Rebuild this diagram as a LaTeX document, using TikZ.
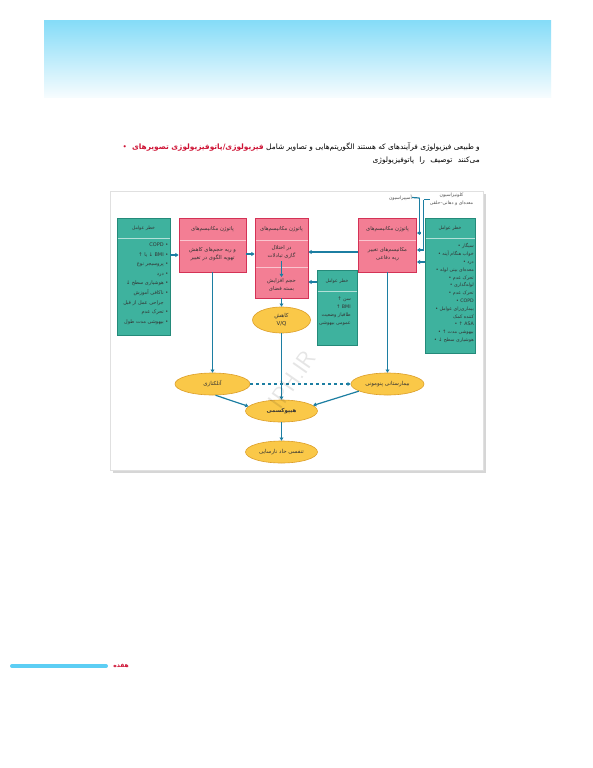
\documentclass[tikz,border=0pt]{standalone}
\usepackage{fontspec}
\usepackage{xcolor}
\usetikzlibrary{arrows.meta, shapes.geometric}
\newfontfamily\farsi[Script=Arabic]{DejaVu Sans}
\TeXXeTstate=1
\definecolor{bannertop}{RGB}{134,220,248}
\definecolor{bannerbot}{RGB}{246,252,254}
\definecolor{riskteal}{RGB}{62,178,158}
\definecolor{riskedge}{RGB}{36,138,122}
\definecolor{mechpink}{RGB}{243,126,148}
\definecolor{mechedge}{RGB}{212,50,86}
\definecolor{ovalfill}{RGB}{250,200,72}
\definecolor{ovaledge}{RGB}{220,158,40}
\definecolor{flowblue}{RGB}{28,126,162}
\definecolor{titlered}{RGB}{206,18,52}
\definecolor{barblue}{RGB}{92,206,244}

\newcommand{\boxfont}{\farsi\fontsize{4.6}{7.6}\selectfont}
\newcommand{\mechfont}{\farsi\fontsize{5.3}{8}\selectfont}

\tikzset{
  riskbox/.style={draw=riskedge, line width=0.7pt, fill=riskteal, inner sep=0pt},
  mechbox/.style={draw=mechedge, line width=0.7pt, fill=mechpink, inner sep=0pt},
  outcome/.style={ellipse, draw=ovaledge, line width=0.6pt, fill=ovalfill,
                  inner sep=0pt, font=\farsi\fontsize{5.5}{7.6}\selectfont, text=black!80},
  boxtext/.style={inner sep=0pt, font=\boxfont, text=black!80},
  mechtext/.style={inner sep=0pt, font=\mechfont, text=black!80, align=center},
  risksep/.style={draw=white!60!riskteal, line width=0.6pt},
  mechsep/.style={draw=white!55!mechpink, line width=0.6pt},
  flow/.style={draw=flowblue, line width=1.2pt, -{Triangle[length=3.2pt, width=3.8pt]}},
}

\begin{document}
\begin{tikzpicture}[x=1pt, y=-1pt]
    \useasboundingbox[fill=white] (0,0) rectangle (593,768);

    % banner and intro
    \shade[top color=bannertop, bottom color=bannerbot] (44,21) rectangle (551,97);
    \node[anchor=east, inner sep=0pt, font=\farsi\fontsize{7.4}{9}\selectfont] (intro1) at (480,147) {%
        \textcolor{titlered}{•}\hspace{5pt}{\color{titlered}\bfseries\beginR فیزیولوژی/پاتوفیزیولوژی تصویرهای\endR} \beginR و طبیعی فیزیولوژی فرآیندهای که هستند الگوریتم‌هایی و تصاویر شامل\endR};
    \node[anchor=east, inner sep=0pt, font=\farsi\fontsize{7.4}{9}\selectfont] (intro2) at (480,161) {\beginR می‌کنند\hspace{3pt} توصیف\hspace{3pt} را\hspace{3pt} پاتوفیزیولوژی\endR};

    % panel
    \fill[black!16] (113,194) rectangle (486,473);
    \filldraw[fill=white, draw=black!12] (110,191) rectangle (483,470);

    % boxes
    \node[riskbox, minimum width=53pt, minimum height=117pt] (riskL) at (143.5,276.5) {};
    \node[mechbox, minimum width=67pt, minimum height=54pt] (mech1) at (212.5,245) {};
    \node[mechbox, minimum width=53pt, minimum height=80pt] (mech2) at (281.5,258) {};
    \node[mechbox, minimum width=58pt, minimum height=54pt] (mech3) at (387.5,245) {};
    \node[riskbox, minimum width=50pt, minimum height=135pt] (riskR) at (450,285.5) {};
    \node[riskbox, minimum width=40pt, minimum height=75pt] (riskM) at (337,307.5) {};

    \draw[risksep] (117.5,238) -- (169.5,238);
    \draw[risksep] (425.5,238) -- (474.5,238);
    \draw[risksep] (317.5,291) -- (356.5,291);
    \draw[mechsep] (179.5,240) -- (245.5,240);
    \draw[mechsep] (255.5,240) -- (307.5,240);
    \draw[mechsep] (255.5,267) -- (307.5,267);
    \draw[mechsep] (359,240) -- (416,240);

    % box texts
    \node[boxtext] (riskLhead) at (143.5,228) {\beginR خطر عوامل\endR};
    \node[boxtext, anchor=north east, align=right, font=\farsi\fontsize{5}{9.6}\selectfont] (riskLitems) at (168.5,242.5) {%
        \beginR • \beginL COPD\endL\endR\\
        \beginR • \beginL BMI\endL{} ↓ یا ↑\endR\\
        \beginR • پروسیجر نوع\endR\\
        \beginR • درد\endR\\
        \beginR • هوشیاری سطح ↓\endR\\
        \beginR • ناکافی آموزش\endR\\
        \beginR جراحی عمل از قبل\endR\phantom{ •}\\
        \beginR • تحرک عدم\endR\\
        \beginR • بیهوشی مدت طول\endR};
    \node[mechtext] (mech1head) at (212.5,229) {\beginR پاتوژن مکانیسم‌های\endR};
    \node[mechtext] (mech1body) at (212.5,254.5) {\beginR و ریه حجم‌های کاهش\endR\\ \beginR تهویه الگوی در تغییر\endR};
    \node[mechtext] (mech2head) at (281.5,229) {\beginR پاتوژن مکانیسم‌های\endR};
    \node[mechtext] (mech2gas) at (281.5,252) {\beginR در اختلال\endR\\ \beginR گازی تبادلات\endR};
    \node[mechtext] (mech2dead) at (281.5,284.5) {\beginR حجم افزایش\endR\\ \beginR بسته فضای\endR};
    \node[mechtext] (mech3head) at (387.5,229) {\beginR پاتوژن مکانیسم‌های\endR};
    \node[mechtext] (mech3body) at (387.5,254.5) {\beginR مکانیسم‌های تغییر\endR\\ \beginR ریه دفاعی\endR};
    \node[boxtext] (riskRhead) at (450,228) {\beginR خطر عوامل\endR};
    \node[boxtext, anchor=north east, align=right, font=\farsi\fontsize{4.7}{7.8}\selectfont] (riskRitems) at (474,243.5) {%
        \beginR سیگار •\endR\\
        \beginR خواب هنگام آپنه •\endR\\
        \beginR درد •\endR\\
        \beginR معده‌ای بینی لوله •\endR\\
        \beginR تحرک عدم •\endR\\
        \beginR لوله‌گذاری •\endR\\
        \beginR تحرک عدم •\endR\\
        \beginR \beginL COPD\endL{} •\endR\\
        \beginR بیماری‌زای عوامل •\endR\\
        \beginR کننده کمک\endR\hspace{4pt}\\
        \beginR \beginL ASA\endL{} ↑ •\endR\\
        \beginR بیهوشی مدت ↑ •\endR\\
        \beginR هوشیاری سطح ↓ •\endR};
    \node[boxtext] (riskMhead) at (337,281) {\beginR خطر عوامل\endR};
    \node[boxtext, anchor=north east, align=right, font=\farsi\fontsize{4.8}{8}\selectfont] (riskMitems) at (351,296.5) {%
        \beginR سن ↑\endR\\
        \beginR \beginL BMI\endL{} ↑\endR\\
        \beginR طاقباز وضعیت\endR\\
        \beginR عمومی بیهوشی\endR};

    % outcomes
    \node[outcome, minimum width=58pt, minimum height=26pt, align=center] (vq) at (281.5,320) {کاهش\\ V/Q};
    \node[outcome, minimum width=75pt, minimum height=22pt] (atel) at (212.5,384) {آتلکتازی};
    \node[outcome, minimum width=73pt, minimum height=22pt] (pneu) at (387.5,384) {\beginR بیمارستانی پنومونی\endR};
    \node[outcome, minimum width=72pt, minimum height=22pt, font=\farsi\bfseries\fontsize{5.5}{7}\selectfont] (hypox) at (281.5,411) {هیپوکسمی};
    \node[outcome, minimum width=72pt, minimum height=22pt] (ards) at (281.5,452) {\beginR تنفسی حاد نارسایی\endR};

    % aspiration and colonization
    \node[boxtext, anchor=east, text=black!70] (asp) at (412,197.5) {آسپیراسیون};
    \node[boxtext, align=center, text=black!70, font=\farsi\fontsize{4.6}{8.5}\selectfont] (col) at (451.5,199.5) {کلونیزاسیون\\ \beginR معده‌ای و دهانی–حلقی\endR};
    \coordinate (aspbend) at (419.5,198);
    \coordinate (colbend) at (423.5,199.5);

    % connectors
    \draw[flow] ([yshift=21.5pt]riskL.east) -- ([yshift=-10pt]mech1.west);
    \draw[flow] ([yshift=-9pt]mech1.east) -- ([yshift=4pt]mech2.west);
    \draw[flow] ([yshift=-7pt]mech3.west) -- ([yshift=6pt]mech2.east);
    \draw[flow] ([yshift=23.5pt]riskR.west) -- ([yshift=-17pt]mech3.east);
    \draw[flow] ([yshift=25.5pt]riskM.west) -- ([yshift=-24pt]mech2.east);
    \draw[flow, -] (asp.east) -- (aspbend);
    \draw[flow] (aspbend) |- ([yshift=12pt]mech3.east);
    \draw[flow, -] (col.west) -- (colbend);
    \draw[flow] (colbend) |- ([yshift=-5pt]mech3.east);
    \coordinate (gasdrop) at (281.5,261);
    \coordinate (deadspace) at (281.5,277);
    \draw[flow] (gasdrop) -- (deadspace);
    \draw[flow] (mech2) -- (vq);
    \draw[flow] (vq) -- (hypox);
    \draw[flow] (mech1) -- (atel);
    \draw[flow] (mech3) -- (pneu);
    \draw[flow, dashed] (atel) -- (pneu);
    \draw[flow] (atel.-75) -- (hypox.172);
    \draw[flow] (pneu.-166) -- (hypox.10);
    \draw[flow] (hypox) -- (ards);

    % watermark
    \node[rotate=55, font=\sffamily\fontsize{24}{24}\selectfont, text=black, opacity=0.1] (stamp) at (292,380) {IPH.IR};

    % footer
    \draw[barblue, line width=4pt, line cap=round] (12,666) -- (106,666);
    \node[font=\farsi\bfseries\fontsize{6}{7}\selectfont, text=titlered, inner sep=0pt] (pagenum) at (121,665.5) {هفده};
\end{tikzpicture}
\end{document}
